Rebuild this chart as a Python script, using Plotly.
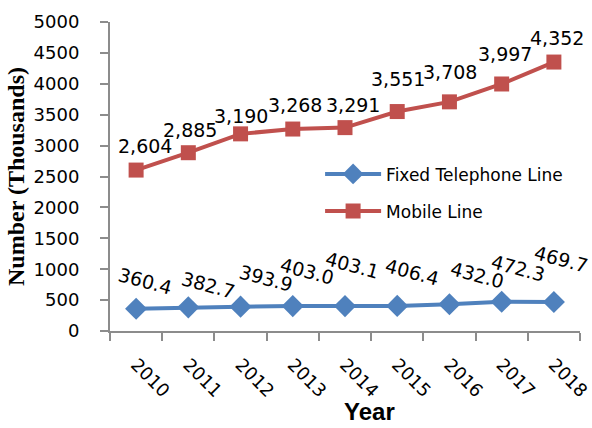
import plotly.graph_objects as go

years = ["2010", "2011", "2012", "2013", "2014", "2015", "2016", "2017", "2018"]
fixed = [360.4, 382.7, 393.9, 403.0, 403.1, 406.4, 432.0, 472.3, 469.7]
mobile = [2604, 2885, 3190, 3268, 3291, 3551, 3708, 3997, 4352]
fixed_labels = ["360.4", "382.7", "393.9", "403.0", "403.1", "406.4", "432.0", "472.3", "469.7"]
mobile_labels = ["2,604", "2,885", "3,190", "3,268", "3,291", "3,551", "3,708", "3,997", "4,352"]

# label placement offsets in pixels (styling only)
fixed_dx = [9, 20, 25, 14, 7, 15, 28, 16, 7]
fixed_dy = [28, 22, 29, 35, 41, 34, 29, 34, 43]
mobile_dx = [9, 2, 0, 2, 8, 1, 1, 3, 3]
mobile_dy = [24, 23, 18, 24, 23, 33, 30, 30, 24]

BLUE = "#4F81BD"
RED = "#C0504D"
FONT = "DejaVu Sans"

fig = go.Figure()
fig.add_trace(go.Scatter(
    x=years, y=fixed, mode="lines+markers", name="Fixed Telephone Line",
    legendgroup="a",
    line=dict(color=BLUE, width=4),
    marker=dict(symbol="diamond", size=17, color=BLUE),
))
fig.add_trace(go.Scatter(
    x=years, y=mobile, mode="lines+markers", name="Mobile Line",
    legendgroup="b",
    line=dict(color=RED, width=4),
    marker=dict(symbol="square", size=15, color=RED),
))

annotations = []
for i, (y, t) in enumerate(zip(fixed, fixed_labels)):
    annotations.append(dict(x=i, y=y, xref="x", yref="y", text=t, showarrow=False,
                            textangle=15, xshift=fixed_dx[i], yshift=fixed_dy[i],
                            font=dict(family=FONT, size=19, color="black")))
for i, (y, t) in enumerate(zip(mobile, mobile_labels)):
    annotations.append(dict(x=i, y=y, xref="x", yref="y", text=t, showarrow=False,
                            xshift=mobile_dx[i], yshift=mobile_dy[i],
                            font=dict(family=FONT, size=19, color="black")))
# x-axis title
annotations.append(dict(x=0.553, y=-0.262, xref="paper", yref="paper",
                        text="<b>Year</b>", showarrow=False,
                        xanchor="center", yanchor="middle",
                        font=dict(family="Liberation Sans", size=24, color="black")))

fig.update_layout(
    width=592, height=428,
    margin=dict(l=110, r=12, t=22, b=97, autoexpand=False),
    paper_bgcolor="white", plot_bgcolor="white",
    showlegend=True,
    legend=dict(x=0.447, y=0.565, xanchor="left", yanchor="top",
                font=dict(family=FONT, size=17, color="black"),
                itemwidth=56,
                bgcolor="rgba(0,0,0,0)", tracegroupgap=12),
    annotations=annotations,
    xaxis=dict(
        type="category", range=[-0.5, 8.5], automargin=False,
        showline=True, linecolor="#8C8C8C", linewidth=2,
        ticks="outside", tickson="boundaries", ticklen=8, tickcolor="#8C8C8C",
        tickwidth=2,
        tickangle=45, ticklabelstandoff=14,
        tickfont=dict(family=FONT, size=18, color="black"),
        showgrid=False, zeroline=False,
    ),
    yaxis=dict(
        range=[0, 5000], dtick=500, automargin=False,
        showline=True, linecolor="#8C8C8C", linewidth=2,
        ticks="outside", ticklen=8, tickcolor="#8C8C8C", tickwidth=2,
        ticklabelstandoff=17,
        tickfont=dict(family=FONT, size=18, color="black"),
        showgrid=False, zeroline=False,
        title=dict(text="<b>Number (Thousands)</b>", standoff=2,
                   font=dict(family="Liberation Serif", size=24, color="black")),
    ),
)

fig.write_html(
    "out.html",
    config={"displayModeBar": False},
    post_script="document.body.style.margin='0px';document.body.style.overflow='hidden';",
)
